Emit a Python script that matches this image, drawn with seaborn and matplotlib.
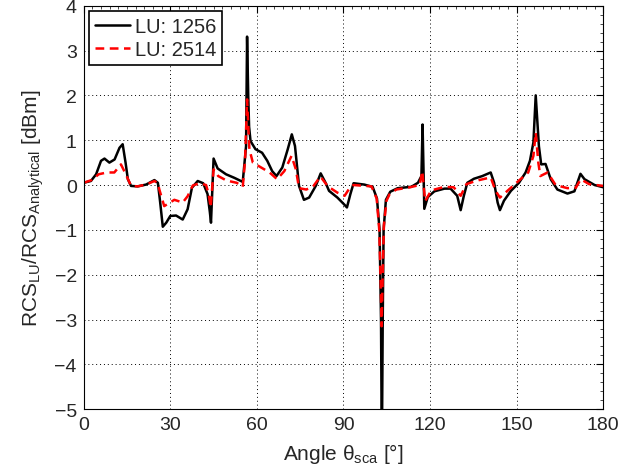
import matplotlib
matplotlib.use("Agg")
import matplotlib.pyplot as plt
import seaborn as sns
import pandas as pd
from matplotlib.ticker import MultipleLocator

angle_1256 = [0, 2.5, 4.3, 6.0, 7.2, 8.9, 10.7, 12.4, 13.5, 14.5,
              15.3, 16.4, 18.7, 21.6, 24.5, 25.7, 26.5, 27.4, 28.6, 30.0,
              32.0, 34.3, 36.0, 37.5, 39.5, 41.4, 42.9, 43.7, 44.1, 45.0,
              46.4, 49.3, 52.2, 55.1, 56.25, 56.6, 57.0, 57.3, 57.8, 59.5,
              61.8, 63.6, 65.3, 66.8, 68.8, 70.7, 72.1, 73.2, 74.6, 76.3,
              78.1, 80.4, 82.1, 83.8, 85.0, 87.9, 90.2, 91.2, 92.4, 93.5,
              97.2, 100.1, 101.6, 102.5, 103.0, 103.3, 103.6, 103.9, 104.7, 106.2,
              108.8, 113.5, 115.8, 117.0, 117.4, 118.0, 119.2, 121.5, 125.0, 127.1,
              129.4, 130.6, 131.7, 132.9, 135.2, 138.1, 141.0, 142.2, 143.4, 144.2,
              145.6, 148.0, 150.8, 153.1, 154.6, 155.8, 156.6, 157.7, 158.5, 160.0,
              161.8, 164.1, 167.6, 170.0, 172.1, 173.5, 177.0, 180]
value_1256 = [0.05, 0.09, 0.24, 0.54, 0.59, 0.50, 0.57, 0.83, 0.91, 0.50,
              0.13, -0.02, -0.03, 0.01, 0.11, 0.05, -0.39, -0.93, -0.84, -0.69,
              -0.68, -0.77, -0.54, -0.06, 0.09, 0.04, -0.20, -0.60, -0.84, 0.59,
              0.37, 0.24, 0.16, 0.07, 0.87, 3.31, 2.0, 1.30, 0.98, 0.80,
              0.72, 0.54, 0.31, 0.20, 0.39, 0.80, 1.13, 0.87, -0.02, -0.33,
              -0.28, -0.02, 0.26, 0.05, -0.13, -0.28, -0.43, -0.50, -0.20, 0.04,
              0.01, -0.04, -0.30, -1.0, -3.0, -6.0, -3.0, -1.0, -0.33, -0.15,
              -0.07, -0.04, 0.05, 0.20, 1.35, -0.53, -0.27, -0.14, -0.08, -0.08,
              -0.24, -0.56, -0.24, 0.05, 0.14, 0.20, 0.28, 0.05, -0.39, -0.56,
              -0.35, -0.13, 0.05, 0.28, 0.54, 0.95, 2.0, 0.87, 0.46, 0.47,
              0.13, -0.10, -0.19, -0.14, 0.25, 0.13, 0.0, -0.05]

angle_2514 = [0, 2.7, 5.2, 8.0, 10.6, 12.9, 14.6, 16.4, 18.7, 21.6,
              24.5, 25.7, 26.2, 27.9, 31.4, 34.3, 36.0, 37.8, 40.1, 42.4,
              43.3, 44.0, 45.0, 46.6, 49.5, 53.0, 55.1, 55.9, 56.6, 57.4,
              58.6, 61.5, 64.4, 67.0, 69.5, 72.0, 73.5, 74.6, 77.1, 79.4,
              82.0, 84.6, 87.9, 90.4, 92.4, 93.5, 99.7, 101.5, 102.4, 102.9,
              103.2, 103.6, 104.0, 104.9, 106.0, 108.3, 112.3, 116.4, 117.3, 118.3,
              120.4, 125.0, 128.2, 130.6, 132.6, 136.3, 141.0, 142.7, 144.2, 146.8,
              150.8, 154.0, 155.8, 156.6, 157.5, 158.2, 160.7, 163.5, 167.6, 170.5,
              172.2, 175.1, 180]
value_2514 = [0.05, 0.11, 0.24, 0.28, 0.28, 0.46, 0.24, -0.02, -0.03, 0.01,
              0.09, 0.04, -0.10, -0.47, -0.33, -0.39, -0.25, -0.01, 0.04, 0.0,
              -0.20, -0.50, 0.35, 0.20, 0.10, 0.05, -0.04, 0.54, 1.91, 0.80,
              0.50, 0.39, 0.28, 0.13, 0.31, 0.65, 0.35, -0.07, -0.10, -0.04,
              0.19, -0.03, -0.17, -0.24, -0.04, 0.0, -0.03, -0.30, -1.0, -2.2,
              -3.15, -2.0, -0.9, -0.35, -0.20, -0.10, -0.06, 0.0, 0.31, -0.36,
              -0.12, -0.04, -0.05, -0.24, 0.02, 0.10, 0.17, -0.13, -0.28, -0.13,
              0.10, 0.28, 0.65, 1.17, 0.50, 0.20, 0.28, 0.0, -0.07, -0.06,
              0.13, 0.02, -0.02]

x_ticks = [0, 30, 60, 90, 120, 150, 180]
y_ticks = [-5, -4, -3, -2, -1, 0, 1, 2, 3, 4]

sns.set_style("white")
plt.rcParams['font.family'] = ['Liberation Sans', 'DejaVu Sans']
plt.rcParams['mathtext.default'] = 'regular'
plt.rcParams['axes.unicode_minus'] = True

df1 = pd.DataFrame({"angle": angle_1256, "value": value_1256})
df2 = pd.DataFrame({"angle": angle_2514, "value": value_2514})

fig = plt.figure(figsize=(6.2, 4.77), dpi=100)
ax = fig.add_axes([0.135, 0.14, 0.838, 0.846])

sns.lineplot(data=df1, x="angle", y="value", ax=ax, color="black", lw=1.8,
             sort=False, estimator=None, label="LU: 1256")
sns.lineplot(data=df2, x="angle", y="value", ax=ax, color="red", lw=1.8,
             sort=False, estimator=None, label="LU: 2514")
ax.lines[1].set_linestyle((0, (3.5, 2.2)))

ax.set_xlim(0, 180)
ax.set_ylim(-5, 4)
ax.set_xticks(x_ticks)
ax.set_yticks(y_ticks)
ax.xaxis.set_minor_locator(MultipleLocator(3))
ax.yaxis.set_minor_locator(MultipleLocator(0.2))
ax.tick_params(which='both', direction='in', top=True, right=True, labelsize=14,
               color='black')
ax.tick_params(which='major', length=5, width=0.8, pad=5)
ax.tick_params(which='minor', length=2.5, width=0.5)
ax.grid(True, which='major', linestyle=(0, (1, 3)), color='black', linewidth=0.7)
for s in ax.spines.values():
    s.set_color('black')
    s.set_linewidth(0.8)

ax.set_xlabel(r"Angle $\theta_{sca}$ [°]", fontsize=15, labelpad=6)
ax.set_ylabel(r"RCS$_{LU}$/RCS$_{Analytical}$ [dBm]", fontsize=15, labelpad=6)

leg = ax.legend(loc='upper left', fontsize=14.5, frameon=True, fancybox=False,
                edgecolor='black', borderaxespad=0.25, handlelength=1.75,
                borderpad=0.3, labelspacing=0.2, handletextpad=0.25)
leg.get_frame().set_linewidth(1.2)
leg.get_frame().set_alpha(1)

fig.savefig("out.png", dpi=100)
